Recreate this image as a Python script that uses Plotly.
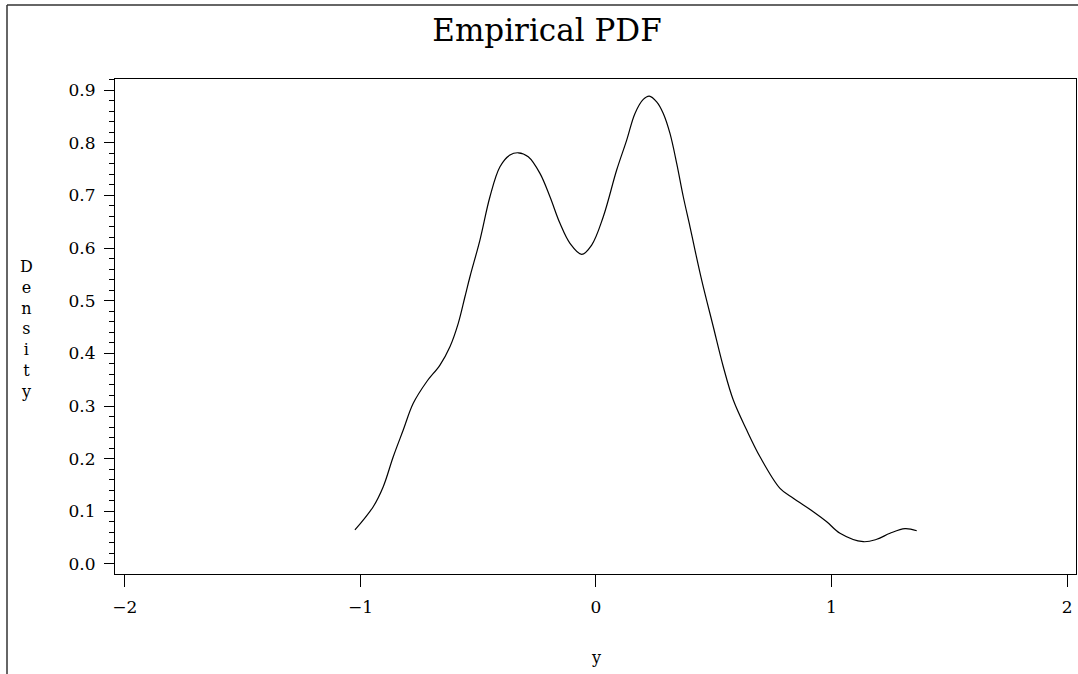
import plotly.graph_objects as go

# Density curve
x_vals = [-1.0234, -0.9457, -0.9032, -0.8607, -0.8183, -0.7758, -0.7189, -0.6624, -0.6200,
          -0.5847, -0.5563, -0.5350, -0.4926, -0.4501, -0.4076, -0.3652, -0.3299, -0.2875,
          -0.2378, -0.1953, -0.1529, -0.1104, -0.0607, -0.0183, 0.0310, 0.0879, 0.1304,
          0.1656, 0.2008, 0.2263, 0.2577, 0.2858, 0.3142, 0.3427, 0.3707, 0.3992, 0.4204,
          0.4488, 0.4981, 0.5406, 0.5830, 0.6399, 0.6964, 0.7813, 0.8378, 0.9227, 0.9796,
          1.0361, 1.1350, 1.1919, 1.2484, 1.3121, 1.3618]
density = [0.0646, 0.1088, 0.1468, 0.2037, 0.2544, 0.3051, 0.3461, 0.3778, 0.4126,
           0.4570, 0.5075, 0.5455, 0.6152, 0.6974, 0.7543, 0.7765, 0.7809, 0.7733,
           0.7418, 0.6974, 0.6469, 0.6089, 0.5880, 0.6057, 0.6594, 0.7481, 0.8050,
           0.8557, 0.8823, 0.8886, 0.8777, 0.8557, 0.8177, 0.7608, 0.6974, 0.6404, 0.5962,
           0.5392, 0.4505, 0.3746, 0.3114, 0.2544, 0.2037, 0.1437, 0.1247, 0.0993, 0.0803,
           0.0583, 0.0423, 0.0469, 0.0583, 0.0670, 0.0632]

x_ticks = [-2, -1, 0, 1, 2]
y_ticks = [0.0, 0.1, 0.2, 0.3, 0.4, 0.5, 0.6, 0.7, 0.8, 0.9]

FONT = "DejaVu Serif"

fig = go.Figure()
fig.add_trace(go.Scatter(x=x_vals, y=density, mode="lines",
                         line=dict(color="black", width=1.2, shape="spline", smoothing=1.0),
                         showlegend=False, hoverinfo="skip"))

fig.update_layout(
    width=1078, height=674,
    margin=dict(l=115, r=2, t=79, b=100),
    paper_bgcolor="white", plot_bgcolor="white",
    font=dict(family=FONT, color="black", size=17),
    title=dict(text="Empirical PDF", x=547 / 1078, xref="container", xanchor="center",
               y=1 - 30 / 674, yref="container", yanchor="middle",
               font=dict(family=FONT, size=31, color="black")),
    showlegend=False,
)

fig.update_xaxes(
    range=[-2.042, 2.038], tickvals=x_ticks, ticktext=["\u22122", "\u22121", "0", "1", "2"],
    showgrid=False, zeroline=False, showline=True, linecolor="black", linewidth=1,
    mirror=True, ticks="outside", ticklen=12, tickcolor="black", tickwidth=1,
    tickfont=dict(family=FONT, size=17), ticklabelstandoff=6,
)
fig.update_yaxes(
    range=[-0.019, 0.921], tickvals=y_ticks, ticktext=[f"{v:.1f}" for v in y_ticks],
    showgrid=False, zeroline=False, showline=True, linecolor="black", linewidth=1,
    mirror=True, ticks="outside", ticklen=10, tickcolor="black", tickwidth=1,
    tickfont=dict(family=FONT, size=17), ticklabelstandoff=5,
    minor=dict(dtick=0.02, tick0=0, ticks="outside", ticklen=5, tickcolor="black",
               tickwidth=1, showgrid=False),
)

# Axis titles
fig.add_annotation(text="y", xref="paper", yref="paper",
                   x=(596 - 115) / 961, y=(574 - 657) / 495,
                   showarrow=False, font=dict(family=FONT, size=16),
                   xanchor="center", yanchor="middle")
fig.add_annotation(text="<br>".join("Density"), xref="paper", yref="paper",
                   x=(26 - 115) / 961, y=(574 - 329) / 495,
                   showarrow=False, font=dict(family=FONT, size=16),
                   xanchor="center", yanchor="middle", align="center")

# Page frame lines (left and top)
fig.add_shape(type="line", xref="paper", yref="paper",
              x0=(7 - 115) / 961, x1=(7 - 115) / 961,
              y0=(574 - 5) / 495, y1=(574 - 680) / 495,
              line=dict(color="#333333", width=1.5))
fig.add_shape(type="line", xref="paper", yref="paper",
              x0=(7 - 115) / 961, x1=(1085 - 115) / 961,
              y0=(574 - 5) / 495, y1=(574 - 5) / 495,
              line=dict(color="#333333", width=1.5))

fig.write_html("out.html", config={"displayModeBar": False},
               post_script="document.body.style.margin='0';")
